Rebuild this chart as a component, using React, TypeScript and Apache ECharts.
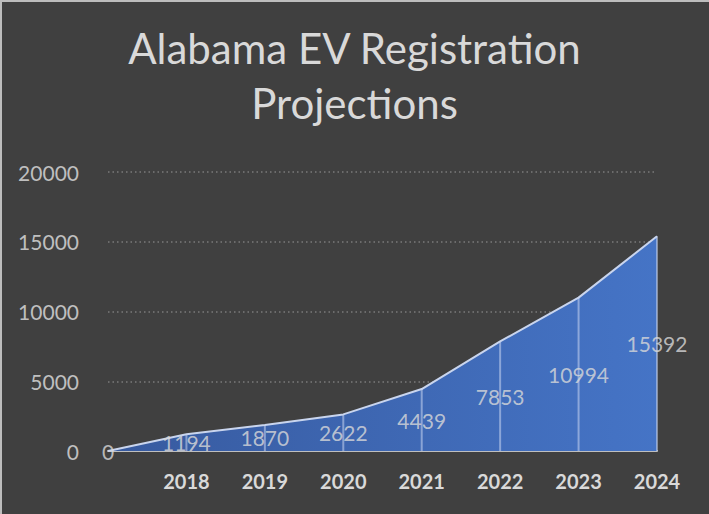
import React, { useEffect, useRef } from "react";
import * as echarts from "echarts";

const categories = ["", "2018", "2019", "2020", "2021", "2022", "2023", "2024"];
const registrations = [0, 1194, 1870, 2622, 4439, 7853, 10994, 15392];
const yTicks = { min: 0, max: 20000, interval: 5000 };
const titleText = "Alabama EV Registration\nProjections";

export default function App() {
  const ref = useRef<HTMLDivElement>(null);
  useEffect(() => {
    if (!ref.current) return;
    const chart = echarts.init(ref.current, null, { renderer: "svg" });
    chart.setOption({
      animation: false,
      backgroundColor: "#404040",
      title: {
        text: titleText,
        left: "center",
        top: 15,
        textStyle: {
          color: "#d9d9d9",
          fontFamily: "Lato",
          fontWeight: "normal",
          fontSize: 42,
          lineHeight: 55,
        },
      },
      graphic: [
        { type: "line", shape: { x1: 1, y1: 0, x2: 1, y2: 514 }, style: { stroke: "#bdbdbd", lineWidth: 2 } },
        { type: "line", shape: { x1: 0, y1: 1, x2: 709, y2: 1 }, style: { stroke: "#bdbdbd", lineWidth: 2 } },
      ],
      grid: { left: 108, right: 52, top: 172, bottom: 63 },
      xAxis: {
        type: "category",
        data: categories,
        boundaryGap: false,
        axisLine: { show: true, lineStyle: { color: "#bfbfbf", width: 2 } },
        axisTick: { show: false },
        axisLabel: {
          color: "#d9d9d9",
          fontFamily: "Lato",
          fontWeight: "bold",
          fontSize: 20,
          margin: 20,
        },
        splitLine: { show: false },
      },
      yAxis: {
        type: "value",
        min: yTicks.min,
        max: yTicks.max,
        interval: yTicks.interval,
        axisLine: { show: false },
        axisTick: { show: false },
        axisLabel: {
          color: "#bfbfbf",
          fontFamily: "Lato",
          fontSize: 21,
          margin: 29,
          formatter: (v: number) => String(v),
        },
        splitLine: { lineStyle: { color: "#7a7a7a", type: [1.5, 3], width: 1.5 } },
      },
      series: [
        {
          type: "line",
          data: registrations,
          symbol: "none",
          z: 2,
          lineStyle: { color: "#c9d5ee", width: 2 },
          areaStyle: {
            opacity: 1,
            color: new echarts.graphic.LinearGradient(0, 0, 1, 0, [
              { offset: 0, color: "#375a9f" },
              { offset: 1, color: "#4574c6" },
            ]),
          },
        },
        {
          type: "bar",
          data: registrations,
          barWidth: 2,
          z: 3,
          silent: true,
          itemStyle: { color: "rgba(200,214,240,0.55)" },
        },
        {
          type: "scatter",
          data: registrations.map((v, i) => [i, v / 2]),
          symbolSize: 0,
          z: 4,
          silent: true,
          label: {
            show: true,
            position: "inside",
            color: "#d9d9d9",
            fontFamily: "Lato",
            fontSize: 21,
            formatter: (p: any) => String(registrations[p.dataIndex]),
          },
        },
      ],
    });
    return () => chart.dispose();
  }, []);
  return (
    <div
      ref={ref}
      style={{ position: "absolute", left: 0, top: 0, width: 709, height: 514 }}
    />
  );
}
